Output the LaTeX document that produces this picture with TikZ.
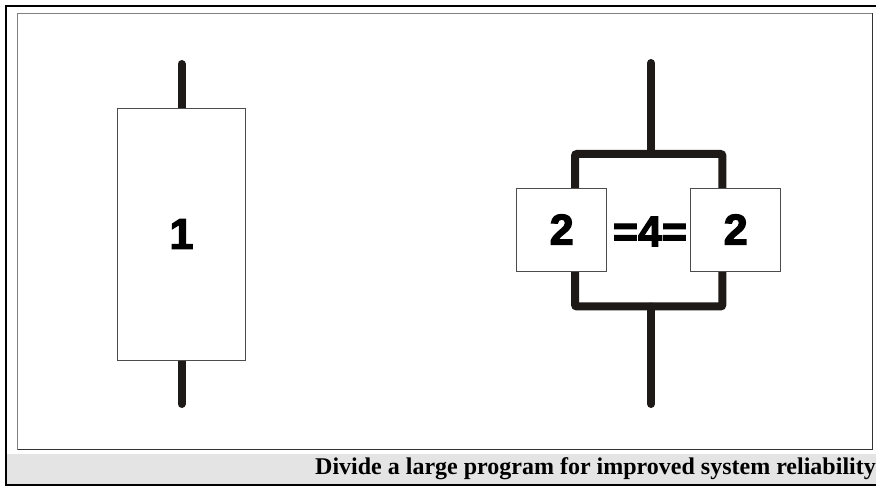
\documentclass[tikz,border=0pt]{standalone}
\usepackage{fontspec}
\setmainfont{Liberation Serif}
\newfontfamily\heavyfont{Liberation Sans}[FakeBold=3]
\usetikzlibrary{positioning,backgrounds}
\definecolor{wirecol}{HTML}{1E1A18}
\definecolor{barcol}{HTML}{E4E4E4}
\tikzset{
    % Module box - thin grey border, heavy digit
    module/.style={
        rectangle,
        draw=black!70,
        fill=white,
        line width=0.8pt,
        inner sep=0pt,
        font=\heavyfont\bfseries\fontsize{43}{43}\selectfont
    },
    % Ratio label between the two halves
    ratio/.style={
        inner sep=0pt,
        font=\heavyfont\bfseries\fontsize{43}{43}\selectfont
    },
    % Thick connection wire
    wire/.style={
        line width=8pt,
        draw=wirecol,
        line cap=round,
        rounded corners=2pt
    },
    % Caption text
    caption/.style={
        inner sep=0pt,
        anchor=base east,
        font=\bfseries\fontsize{24}{24}\selectfont
    }
}

\begin{document}
\begin{tikzpicture}[x=1pt, y=-1pt]

    \useasboundingbox (0,0) rectangle (876,486);

    % ========== FRAME ==========
    \fill[barcol] (6,453.5) rectangle (876,484.5);
    \draw[line width=1pt, black!50] (17.5,449.5) -- (17.5,13.5) -- (872,13.5);
    \draw[line width=1pt, black!80] (17.5,449.5) -- (872,449.5) -- (872,13.5);
    \draw[line width=2pt, black] (876,6) -- (6,6) -- (6,485.3) -- (876,485.3);

    % ========== SINGLE MODULE ==========
    \node[module, minimum width=128pt, minimum height=252pt] (one) at (181.5,234) {1};
    \coordinate (in1) at (181.5,64);
    \coordinate (out1) at (181.5,404);

    % ========== SPLIT MODULES ==========
    \node[module, minimum width=90pt, minimum height=83pt] (twoA) at (561.7,229.5) {2};
    \node[module, minimum width=90pt, minimum height=83pt] (twoB) at (735.7,229.5) {2};
    \node[ratio] (four) at (650,231.5) {=4=};
    \coordinate (in2) at (651,63);
    \coordinate (split) at (651,154);
    \coordinate (join) at (651,306.5);
    \coordinate (out2) at (651,404);

    % ========== CONNECTIONS ==========
    \begin{scope}[on background layer]
        \fill[white] (0,0) rectangle (876,486);

        \draw[wire] (in1) -- (one.north);
        \draw[wire] (one.south) -- (out1);

        \draw[wire] (in2) -- (split);
        \draw[wire] ([xshift=13.3pt]twoA.north) |- (split) -| ([xshift=-13.3pt]twoB.north);
        \draw[wire] ([xshift=13.3pt]twoA.south) |- (join) -| ([xshift=-13.3pt]twoB.south);
        \draw[wire] (join) -- (out2);
    \end{scope}

    % ========== CAPTION ==========
    \node[caption] (title) at (876,474) {Divide a large program for improved system reliability};

\end{tikzpicture}
\end{document}
